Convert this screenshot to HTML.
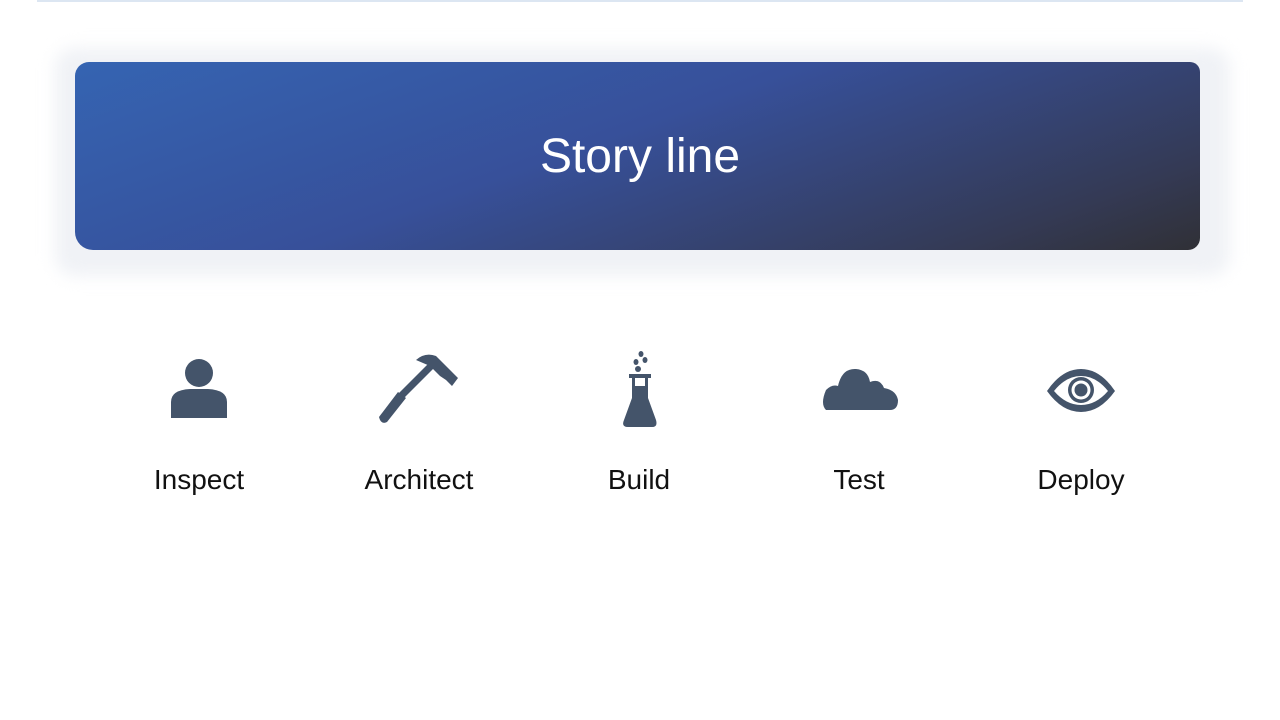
<!DOCTYPE html>
<html><head><meta charset="utf-8"><style>
body{margin:0;width:1280px;height:720px;background:#fff;position:relative;overflow:hidden;font-family:"Liberation Sans",sans-serif}
.line{position:absolute;left:37px;top:0;width:1206px;height:2px;background:#dce6f2}
.halo{position:absolute;left:55px;top:48px;width:1175px;height:228px;background:#f0f2f6;border-radius:20px;filter:blur(8px)}
.banner{position:absolute;left:75px;top:62px;width:1125px;height:188px;background:linear-gradient(160deg,#3564b2 0%,#37509a 45%,#343a55 85%,#303036 100%);border-radius:14px 10px 12px 18px}
.title{position:absolute;left:0;width:1280px;top:129px;text-align:center;color:#fff;font-size:48px;font-weight:300}
.lab{position:absolute;top:464px;width:200px;text-align:center;font-size:28px;color:#111}
svg{position:absolute}
</style></head><body>
<div class="line"></div>
<div class="halo"></div>
<div class="banner"></div>
<div class="title">Story line</div>
<svg width="1280" height="720" style="left:0;top:0">
<g fill="#44546a">
<ellipse cx="199" cy="373" rx="14" ry="14"/>
<path d="M171 418 V402 Q171 390 190 389 H208 Q227 390 227 402 V418 Z"/>
<path d="M379 417 L398 392 L406 398 L387 422 Q381 425 379 417Z"/>
<path d="M398 394 L430 362 L435 367 L403 399Z"/>
<path d="M416 360 Q425 352 436 356 L452 372 L458 378 L452 386 L446 380 L440 376 L430 366Z"/>
<ellipse cx="641" cy="354" rx="2.5" ry="3"/>
<ellipse cx="636" cy="362" rx="2.5" ry="3"/>
<ellipse cx="645" cy="360" rx="2.5" ry="3"/>
<ellipse cx="638" cy="369" rx="3" ry="3"/>
<path d="M629 374 H651 V378 H648 V398 L656 420 Q658 427 652 427 H628 Q621 427 624 420 L632 398 V378 H629Z"/>
<rect x="635" y="378" width="10" height="8" fill="#fff"/>
<path d="M826 410 Q820 404 826 390 Q832 384 838 386 Q842 368 856 369 Q868 370 870 382 Q880 378 884 388 Q896 390 898 400 Q898 410 890 410Z"/>
<path d="M1047 391 Q1062 369 1081 369 Q1100 369 1115 391 Q1100 412 1081 412 Q1062 412 1047 391Z"/>
</g>
<path d="M1054 391 Q1066 376 1081 376 Q1096 376 1108 391 Q1096 405 1081 405 Q1066 405 1054 391Z" fill="#fff"/>
<circle cx="1081" cy="390" r="13" fill="#44546a"/>
<circle cx="1081" cy="390" r="9.5" fill="#fff"/>
<circle cx="1081" cy="390" r="6.5" fill="#44546a"/>
</svg>
<div class="lab" style="left:99px">Inspect</div>
<div class="lab" style="left:319px">Architect</div>
<div class="lab" style="left:539px">Build</div>
<div class="lab" style="left:759px">Test</div>
<div class="lab" style="left:981px">Deploy</div>
</body></html>
